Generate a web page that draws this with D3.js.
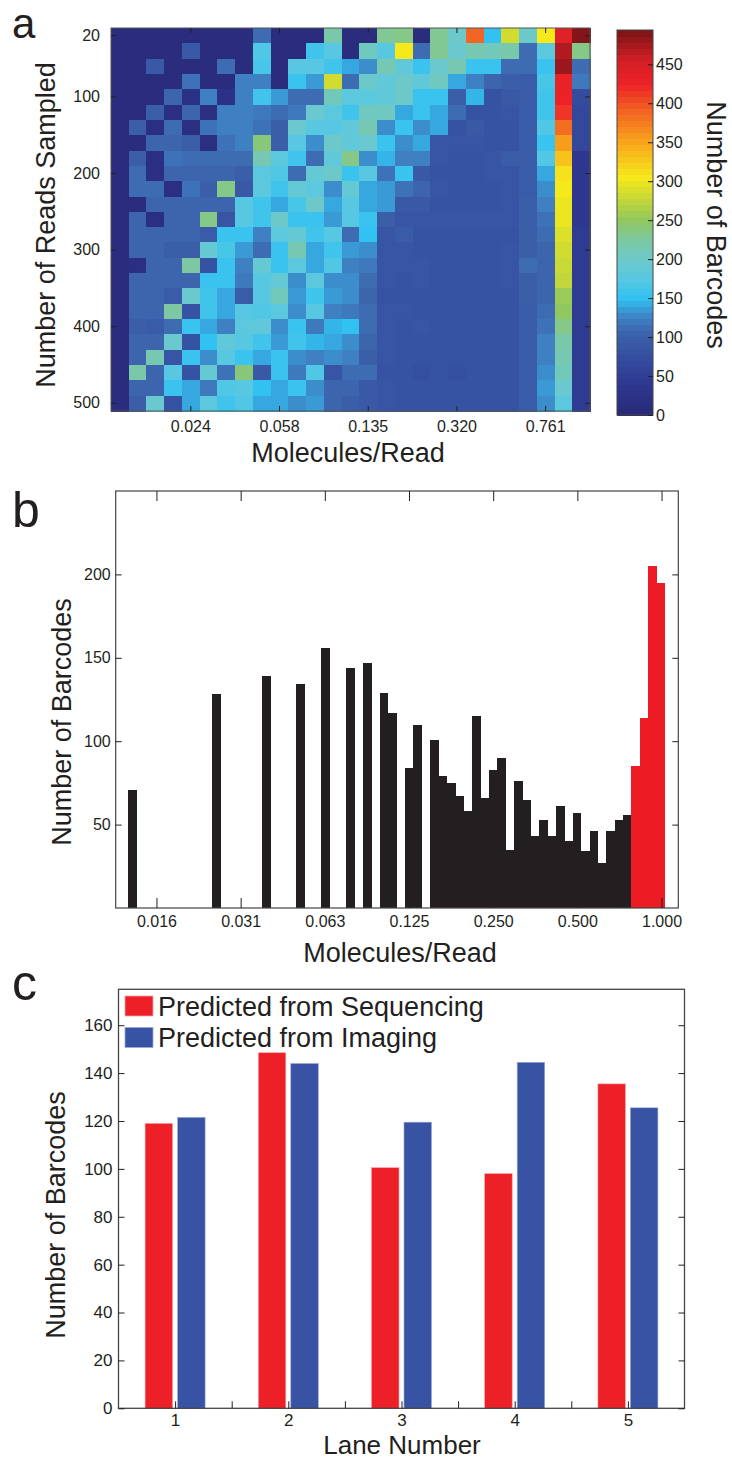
<!DOCTYPE html>
<html><head><meta charset="utf-8">
<script src="https://cdn.jsdelivr.net/npm/d3@7"></script>
<style>
html,body{margin:0;padding:0;background:#fff;}
svg text{font-family:"Liberation Sans",Arial,Helvetica,sans-serif;}
</style></head><body>
<svg id="fig" width="732" height="1460"></svg>
<script>
// ================= DATA =================
// Panel a: heat map (rows = reads sampled, columns = molecules/read bins)
const readsSampled = [20,40,60,80,100,120,140,160,180,200,220,240,260,280,300,320,340,360,380,400,420,440,460,480,500];
const barcodeHeat = [
 [10,10,10,10,10,10,10,10,110,10,10,10,220,10,10,230,235,10,230,200,390,150,285,200,305,440,490],
 [10,10,10,10,90,10,10,10,170,10,10,160,175,10,205,175,305,110,230,195,215,210,220,110,180,470,235],
 [10,10,90,10,10,10,110,10,165,10,175,175,160,140,130,215,185,155,195,215,155,155,110,110,155,480,110],
 [10,10,10,10,115,10,10,125,125,10,155,135,285,110,200,185,200,185,205,140,125,105,100,95,165,430,120],
 [10,10,10,105,20,125,20,125,160,135,110,110,210,180,180,185,200,155,155,100,145,80,90,95,160,425,70],
 [10,10,100,15,105,15,125,125,120,110,120,195,180,160,205,205,140,155,140,110,80,80,85,95,160,415,65],
 [10,100,15,110,15,115,125,125,115,100,195,175,175,185,215,130,155,130,140,80,90,80,80,95,170,385,65],
 [10,10,105,105,100,15,115,125,240,100,175,130,200,185,195,155,130,140,85,85,85,80,80,95,155,355,65],
 [10,100,15,115,110,110,110,110,215,180,160,110,185,235,130,145,125,125,85,80,80,85,95,95,170,330,40],
 [10,110,15,105,105,105,105,100,180,170,110,190,200,155,175,115,155,90,80,80,80,85,85,95,140,310,40],
 [10,110,110,15,115,100,235,90,180,160,190,180,130,190,140,135,115,105,85,80,80,80,85,95,130,305,40],
 [10,10,105,105,105,105,105,175,160,140,165,200,140,175,140,135,90,90,80,80,80,80,85,100,125,300,40],
 [10,105,15,105,105,235,85,175,160,200,155,155,135,175,155,100,85,85,85,85,85,85,85,100,115,300,40],
 [10,105,105,105,105,95,155,155,125,180,190,160,175,110,150,85,95,80,80,80,80,80,80,100,110,290,45],
 [10,105,105,100,100,190,165,135,110,155,215,140,160,135,130,85,85,80,80,80,80,80,85,100,105,285,45],
 [10,15,105,105,225,80,155,125,190,155,180,140,170,125,120,85,85,85,80,80,80,80,85,110,105,280,45],
 [10,105,105,105,105,155,155,120,175,190,130,180,130,130,110,85,80,85,80,80,80,80,85,100,105,275,45],
 [10,105,105,95,195,160,140,95,175,210,135,160,135,130,105,80,80,80,80,80,80,80,80,100,105,255,45],
 [10,105,105,225,80,160,140,175,170,180,130,175,125,120,110,85,85,80,80,80,80,80,80,95,110,250,45],
 [10,100,95,110,155,140,125,180,185,130,155,120,145,150,110,85,80,85,80,80,80,80,80,95,115,235,45],
 [10,105,105,195,80,150,185,175,160,135,160,145,140,130,105,85,80,80,80,80,80,80,80,95,125,220,45],
 [10,105,215,85,155,130,175,155,140,155,130,125,130,125,100,85,80,80,80,80,80,80,80,95,125,215,45],
 [10,220,105,175,80,190,115,240,90,155,120,170,85,110,110,80,80,75,80,75,80,80,80,95,130,210,45],
 [10,105,105,155,140,120,170,175,150,140,155,130,105,105,90,85,80,80,80,80,80,80,80,95,135,195,45],
 [10,100,195,80,140,180,160,170,140,140,130,135,105,100,90,85,80,80,80,80,80,80,80,95,130,180,45]
];
const heatYTicks = [20,100,200,300,400,500];
const heatXTickCols = [4,9,14,19,24];
const heatXTickLabels = ["0.024","0.058","0.135","0.320","0.761"];
const cmapStops  = [0,40,80,100,125,150,175,200,225,250,275,305,350,390,425,455,494];
const cmapColors = ["#282a78","#2e3790","#3652a2","#3b5ea9","#3f80c3","#31c2f1","#58c8e2","#6dc9c9","#7dc8a2","#90c75e","#c0d63a","#f5e91c","#f8a51b","#f26522","#ec2227","#d41f26","#7a1315"];
const colorbarTicks = [0,50,100,150,200,250,300,350,400,450];

// Panel b: histogram (bin centre in molecules/read, count)
const histCenters = [0.01281,0.02557,0.03868,0.05099,0.0627,0.0772,0.0886,0.1017,0.1090,0.1252,0.1342,
  0.1540,0.1650,0.1768,0.1895,0.2030,0.2175,0.2331,0.2497,0.2676,0.2867,0.3072,0.3292,0.3527,0.3779,
  0.4050,0.4339,0.4649,0.4982,0.5338,0.5720,0.6129,0.6567,0.7036,0.7539,0.8078,0.8656,0.9275,0.9938];
const histCounts  = [71,128,139,134,156,144,147,129,117,84,110,
  101,79,75,67,58,115,66,83,90,35,76,65,43,53,
  43,61,40,57,34,46,27,46,53,56,85,114,205,195];
const histRedFrom = 0.78;   // bins above this are drawn red
const histBinLog2 = 0.0996; // bin width in log2 units
const histXTicks = [0.015625,0.03125,0.0625,0.125,0.25,0.5,1];
const histXTickLabels = ["0.016","0.031","0.063","0.125","0.250","0.500","1.000"];
const histYTicks = [50,100,150,200];

// Panel c: grouped bars
const lanes = [1,2,3,4,5];
const seqPredicted = [119,148.5,100.5,98,135.5];
const imgPredicted = [121.5,144,119.5,144.5,125.5];
const seriesNames = ["Predicted from Sequencing","Predicted from Imaging"];
const laneTicks = [1,1.5,2,2.5,3,3.5,4,4.5,5];
const cYTicks = [0,20,40,60,80,100,120,140,160];

// ================= DRAW =================
const FONT = '"Liberation Sans",Arial,Helvetica,sans-serif';
const ink = "#231f20";
const svg = d3.select("#fig");

function styleAxis(g, fs){
  g.select(".domain").remove();
  g.attr("font-family", null).attr("font-size", null);
  g.selectAll("line").attr("stroke", ink).attr("stroke-width", 1);
  g.selectAll("text").attr("fill", ink).style("font-size", fs + "px").style("font-family", FONT);
}
function label(txt, x, y, fs, rot, anchor){
  const t = svg.append("text").text(txt).attr("fill", ink)
    .style("font-size", fs + "px").style("font-family", FONT)
    .attr("text-anchor", anchor || "middle");
  if (rot) t.attr("transform", `translate(${x},${y}) rotate(${rot})`);
  else t.attr("x", x).attr("y", y);
  return t;
}

// ---------- Panel a ----------
const aL = 111, aR = 590, aT = 28, aB = 411;
const ax = d3.scaleBand().domain(d3.range(barcodeHeat[0].length)).range([aL, aR]);
const ay = d3.scaleBand().domain(readsSampled).range([aT, aB]);
const cmap = d3.scaleLinear().domain(cmapStops).range(cmapColors).interpolate(d3.interpolateRgb).clamp(true);

const cells = [];
barcodeHeat.forEach((row, i) => row.forEach((v, j) => cells.push({r: readsSampled[i], c: j, v})));
svg.append("g").selectAll("rect").data(cells).join("rect")
  .attr("x", d => ax(d.c)).attr("y", d => ay(d.r))
  .attr("width", ax.bandwidth() + 0.5).attr("height", ay.bandwidth() + 0.5)
  .attr("fill", d => cmap(d.v)).attr("shape-rendering", "crispEdges");

svg.append("rect").attr("x", aL).attr("y", aT).attr("width", aR - aL).attr("height", aB - aT)
  .attr("fill", "none").attr("stroke", "#555").attr("stroke-width", 1);

svg.append("g").attr("transform", `translate(${aL},0)`)
  .call(d3.axisLeft(ay).tickValues(heatYTicks).tickSize(-5).tickPadding(11))
  .call(g => styleAxis(g, 16));
svg.append("g").attr("transform", `translate(${aR},0)`)
  .call(d3.axisRight(ay).tickValues(heatYTicks).tickSize(-5).tickFormat(""))
  .call(g => styleAxis(g, 16));
svg.append("g").attr("transform", `translate(0,${aB})`)
  .call(d3.axisBottom(ax).tickValues(heatXTickCols).tickSize(-5).tickPadding(10)
    .tickFormat((d, i) => heatXTickLabels[i]))
  .call(g => styleAxis(g, 16));
svg.append("g").attr("transform", `translate(0,${aT})`)
  .call(d3.axisTop(ax).tickValues(heatXTickCols).tickSize(-5).tickFormat(""))
  .call(g => styleAxis(g, 16));

label("Molecules/Read", 348, 462, 27);
label("Number of Reads Sampled", 55, 225, 27, -90);
label("a", 12, 38, 42, 0, "start");

// colorbar
const cbL = 617, cbR = 653, cbT = 30, cbB = 415;
const cby = d3.scaleLinear().domain([0, cmapStops[cmapStops.length - 1]]).range([cbB, cbT]);
const nBands = 64, vmax = cmapStops[cmapStops.length - 1];
svg.append("g").selectAll("rect").data(d3.range(nBands)).join("rect")
  .attr("x", cbL).attr("width", cbR - cbL)
  .attr("y", k => cby((k + 1) * vmax / nBands))
  .attr("height", k => cby(k * vmax / nBands) - cby((k + 1) * vmax / nBands) + 0.5)
  .attr("fill", k => cmap((k + 0.5) * vmax / nBands)).attr("shape-rendering", "crispEdges");
svg.append("rect").attr("x", cbL).attr("y", cbT).attr("width", cbR - cbL).attr("height", cbB - cbT)
  .attr("fill", "none").attr("stroke", "#444").attr("stroke-width", 1);
svg.append("g").attr("transform", `translate(${cbR},0)`)
  .call(d3.axisRight(cby).tickValues(colorbarTicks).tickSize(-5).tickPadding(3))
  .call(g => styleAxis(g, 16));
label("Number of Barcodes", 707, 225, 27, 90);

// ---------- Panel b ----------
const bL = 115.7, bR = 678.3, bT = 491, bB = 908;
const bx = d3.scaleLog().base(2).domain([0.01117, 1.148]).range([bL, bR]);
const by = d3.scaleLinear().domain([0, 250]).range([bB, bT]);
const half = Math.pow(2, histBinLog2 / 2);
const hist = histCenters.map((c, i) => ({c, n: histCounts[i]}));
svg.append("g").selectAll("rect").data(hist).join("rect")
  .attr("x", d => bx(d.c / half))
  .attr("width", d => bx(d.c * half) - bx(d.c / half) + 0.3)
  .attr("y", d => by(d.n)).attr("height", d => by(0) - by(d.n))
  .attr("fill", d => d.c > histRedFrom ? "#ed1c24" : ink)
  .attr("shape-rendering", "crispEdges");
svg.append("rect").attr("x", bL).attr("y", bT).attr("width", bR - bL).attr("height", bB - bT)
  .attr("fill", "none").attr("stroke", "#444").attr("stroke-width", 1.2);
svg.append("g").attr("transform", `translate(0,${bB})`)
  .call(d3.axisBottom(bx).tickValues(histXTicks).tickSize(-10).tickPadding(8)
    .tickFormat((d, i) => histXTickLabels[i]))
  .call(g => styleAxis(g, 16));
svg.append("g").attr("transform", `translate(0,${bT})`)
  .call(d3.axisTop(bx).tickValues(histXTicks).tickSize(-10).tickFormat(""))
  .call(g => styleAxis(g, 16));
svg.append("g").attr("transform", `translate(${bL},0)`)
  .call(d3.axisLeft(by).tickValues(histYTicks).tickSize(-6).tickPadding(5))
  .call(g => styleAxis(g, 16));
svg.append("g").attr("transform", `translate(${bR},0)`)
  .call(d3.axisRight(by).tickValues(histYTicks).tickSize(-6).tickFormat(""))
  .call(g => styleAxis(g, 16));
label("Molecules/Read", 400, 962, 27);
label("Number of Barcodes", 71, 722, 27, -90);
label("b", 12, 527, 50, 0, "start");

// ---------- Panel c ----------
const cL = 118.5, cR = 684.5, cT = 989.3, cB = 1408.3;
const cx = d3.scaleLinear().domain([0.5, 5.5]).range([cL, cR]);
const cy = d3.scaleLinear().domain([0, 175]).range([cB, cT]);
const series = [
  {name: seriesNames[0], vals: seqPredicted, fill: "#ed1f27", edge: "#f6a3a6", off0: -0.265, off1: -0.022},
  {name: seriesNames[1], vals: imgPredicted, fill: "#3953a4", edge: "#9aa8d8", off0: 0.022, off1: 0.265}
];
series.forEach(s => {
  svg.append("g").selectAll("rect").data(lanes.map((l, i) => ({l, v: s.vals[i]}))).join("rect")
    .attr("x", d => cx(d.l + s.off0)).attr("width", d => cx(d.l + s.off1) - cx(d.l + s.off0))
    .attr("y", d => cy(d.v)).attr("height", d => cy(0) - cy(d.v))
    .attr("fill", s.fill).attr("stroke", s.edge).attr("stroke-width", 0.6);
});
svg.append("rect").attr("x", cL).attr("y", cT).attr("width", cR - cL).attr("height", cB - cT)
  .attr("fill", "none").attr("stroke", "#444").attr("stroke-width", 1.3);
svg.append("g").attr("transform", `translate(0,${cB})`)
  .call(d3.axisBottom(cx).tickValues(laneTicks).tickSize(-7).tickPadding(6)
    .tickFormat(d => lanes.includes(d) ? String(d) : ""))
  .call(g => styleAxis(g, 17));
svg.append("g").attr("transform", `translate(${cL},0)`)
  .call(d3.axisLeft(cy).tickValues(cYTicks).tickSize(-6).tickPadding(6))
  .call(g => styleAxis(g, 17));
svg.append("g").attr("transform", `translate(${cR},0)`)
  .call(d3.axisRight(cy).tickValues(cYTicks).tickSize(-6).tickFormat(""))
  .call(g => styleAxis(g, 17));

// legend
const leg = svg.append("g");
series.forEach((s, i) => {
  const y0 = 996 + i * 31.5;
  leg.append("rect").attr("x", 125).attr("y", y0).attr("width", 28).attr("height", 20)
    .attr("fill", s.fill).attr("stroke", s.edge).attr("stroke-width", 0.8);
  leg.append("text").text(s.name).attr("x", 158).attr("y", y0 + 19.5)
    .attr("fill", ink).style("font-size", "27px").style("font-family", FONT);
});
label("Lane Number", 402, 1454, 26);
label("Number of Barcodes", 65, 1215, 27, -90);
label("c", 12, 1000, 50, 0, "start");
</script>
</body></html>
